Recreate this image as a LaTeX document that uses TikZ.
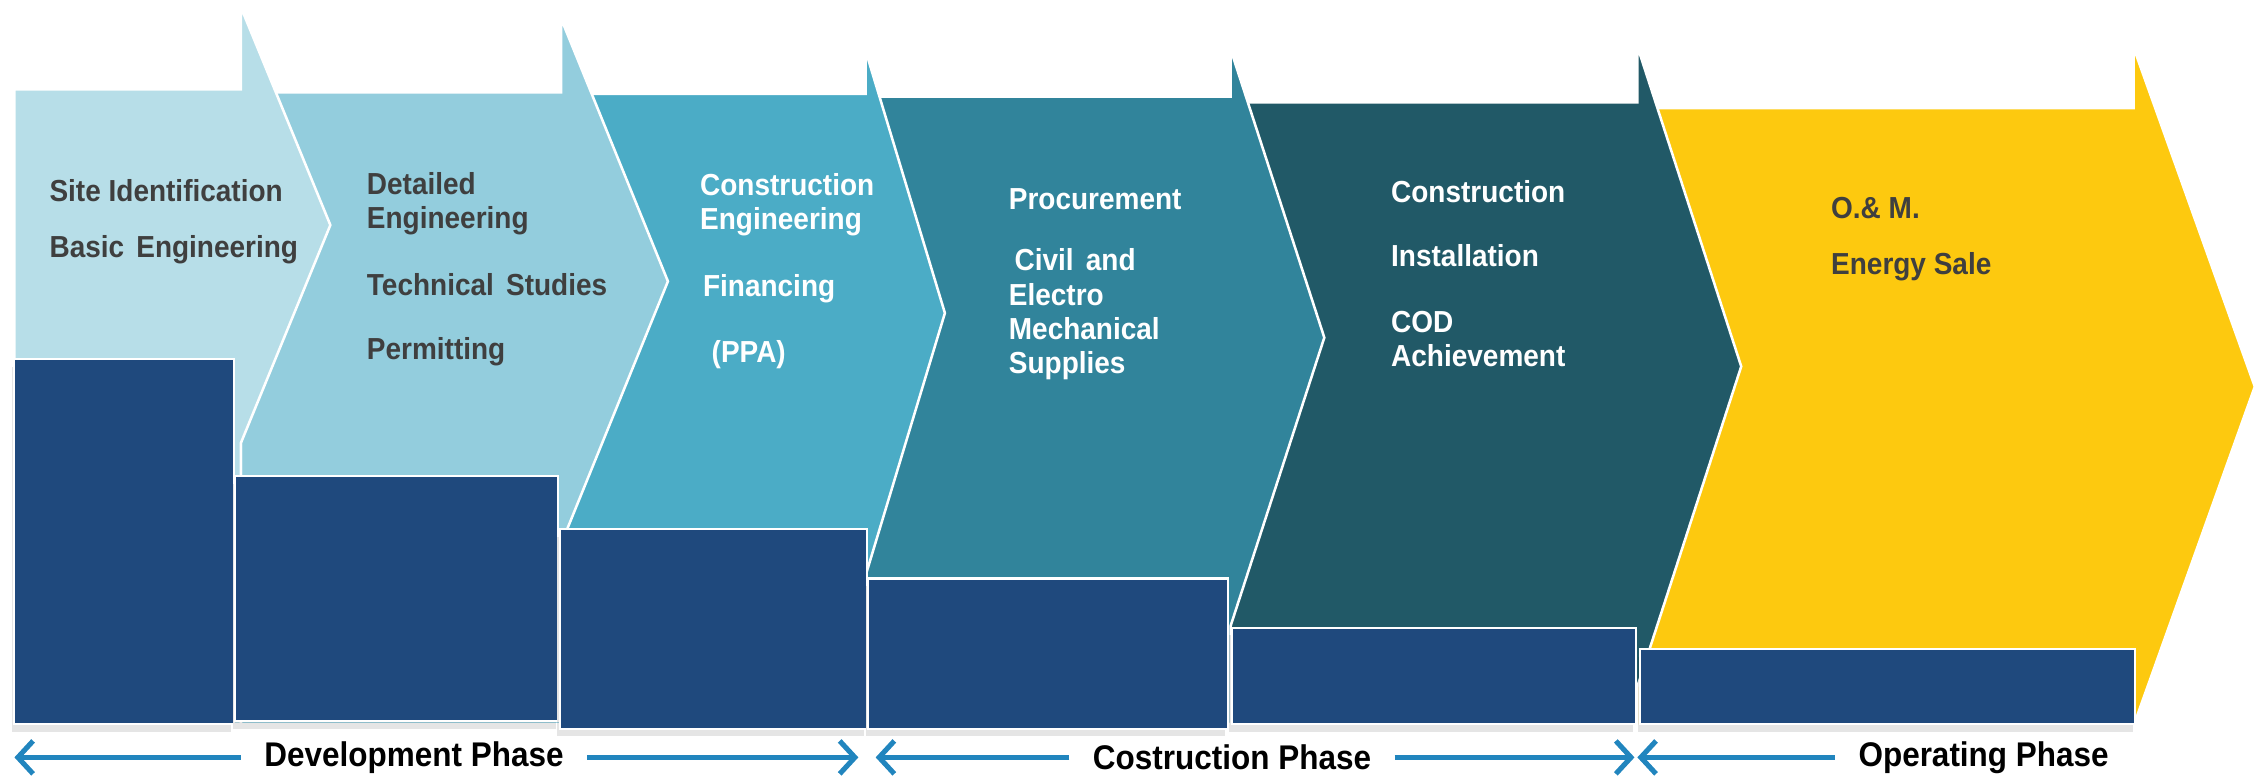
\documentclass[tikz,border=0pt]{standalone}
\usepackage{fontspec}
\setmainfont{Liberation Sans}[FakeStretch=0.92]
\usetikzlibrary{arrows.meta,shadows}

\definecolor{chevA}{HTML}{B7DEE8}
\definecolor{chevB}{HTML}{93CDDD}
\definecolor{chevC}{HTML}{4BACC6}
\definecolor{chevD}{HTML}{31849B}
\definecolor{chevE}{HTML}{215967}
\definecolor{chevF}{HTML}{FDC90F}
\definecolor{blockblue}{HTML}{1F497D}
\definecolor{phaseblue}{HTML}{2185BE}
\definecolor{txtgray}{HTML}{3F3F3F}

\tikzset{
  chevron/.style={draw=white, line width=1pt, line join=miter},
  block/.style={fill=blockblue, draw=white, line width=0.8pt,
    drop shadow={shadow xshift=-1pt, shadow yshift=-3pt, fill=black, opacity=0.1}},
  darktxt/.style={anchor=west, align=left, text=txtgray, inner sep=0pt,
    font=\bfseries\fontsize{12}{13.5}\selectfont},
  lighttxt/.style={darktxt, text=white},
  phase/.style={font=\bfseries\fontsize{13.5}{15}\selectfont, inner xsep=0.32cm},
  phasearrow/.style={draw=phaseblue, line width=2pt, -{Straight Barb[length=6pt,width=13pt]}}
}

\begin{document}
\begin{tikzpicture}[x=0.02cm, y=-0.02cm]
		\useasboundingbox (0,0) rectangle (1568,539);

		% Chevrons (back to front)
		\path[chevron, fill=chevF] (1135,75) -- (1479,75) -- (1479,33) -- (1563,268) -- (1479,503) -- (1135,503) -- cycle;
		\path[chevron, fill=chevE] (853,71) -- (1135,71) -- (1135,32) -- (1207,254) -- (1135,476) -- (1135,502) -- (853,502) -- cycle;
		\path[chevron, fill=chevD] (600,67) -- (853,67) -- (853,34) -- (918,234) -- (853,434) -- (853,502) -- (600,502) -- cycle;
		\path[chevron, fill=chevC] (389,65) -- (600,65) -- (600,35) -- (655,217) -- (600,399) -- (600,502) -- (389,502) -- cycle;
		\path[chevron, fill=chevB] (167,64) -- (389,64) -- (389,13) -- (463,195) -- (389,377) -- (389,502) -- (167,502) -- cycle;
		\path[chevron, fill=chevA] (10,62) -- (167,62) -- (167,5) -- (229,156) -- (167,307) -- (167,502) -- (10,502) -- cycle;

		% Blocks
		\draw[block] (10,249) rectangle (162,502);
		\draw[block] (163,330) rectangle (387,500);
		\draw[block] (388,367) rectangle (601,505);
		\draw[block] (602,401) rectangle (851,505);
		\draw[block] (854,435) rectangle (1134,502);
		\draw[block] (1137,450) rectangle (1480,502);

		% Stage texts
		\node[darktxt] (site) at (34,132) {Site Identification};
		\node[darktxt] (basic) at (34,173) {Basic\hspace{0.4em}Engineering};
		\node[darktxt] (detail) at (254,141) {Detailed\\Engineering};
		\node[darktxt] (studies) at (254,197) {Technical\hspace{0.4em}Studies};
		\node[darktxt] (permit) at (254,244) {Permitting};
		\node[lighttxt] (conseng) at (485,142) {Construction\\Engineering};
		\node[lighttxt] (finance) at (487,200) {Financing};
		\node[lighttxt] (ppa) at (493,246) {(PPA)};
		\node[lighttxt] (procure) at (699,138) {Procurement};
		\node[lighttxt] (civil) at (703,180) {Civil\hspace{0.4em}and};
		\node[lighttxt] (supply) at (699,230) {Electro\\Mechanical\\Supplies};
		\node[lighttxt] (build) at (964,133) {Construction};
		\node[lighttxt] (install) at (964,177) {Installation};
		\node[lighttxt] (cod) at (964,235) {COD\\Achievement};
		\node[darktxt] (om) at (1269,144) {O.\& M.};
		\node[darktxt] (sale) at (1269,185) {Energy Sale};

		% Phases
		\node[phase] (dev) at (287,525) {Development Phase};
		\node[phase] (con) at (854,525) {Costruction Phase};
		\node[phase] (op) at (1375,525) {Operating Phase};
		\coordinate (devL) at (10,525);
		\coordinate (devR) at (595,525);
		\coordinate (conL) at (607,525);
		\coordinate (conR) at (1133,525);
		\coordinate (opL) at (1135,525);
		\draw[phasearrow] (dev) -- (devL);
		\draw[phasearrow] (dev) -- (devR);
		\draw[phasearrow] (con) -- (conL);
		\draw[phasearrow] (con) -- (conR);
		\draw[phasearrow] (op) -- (opL);
\end{tikzpicture}
\end{document}
